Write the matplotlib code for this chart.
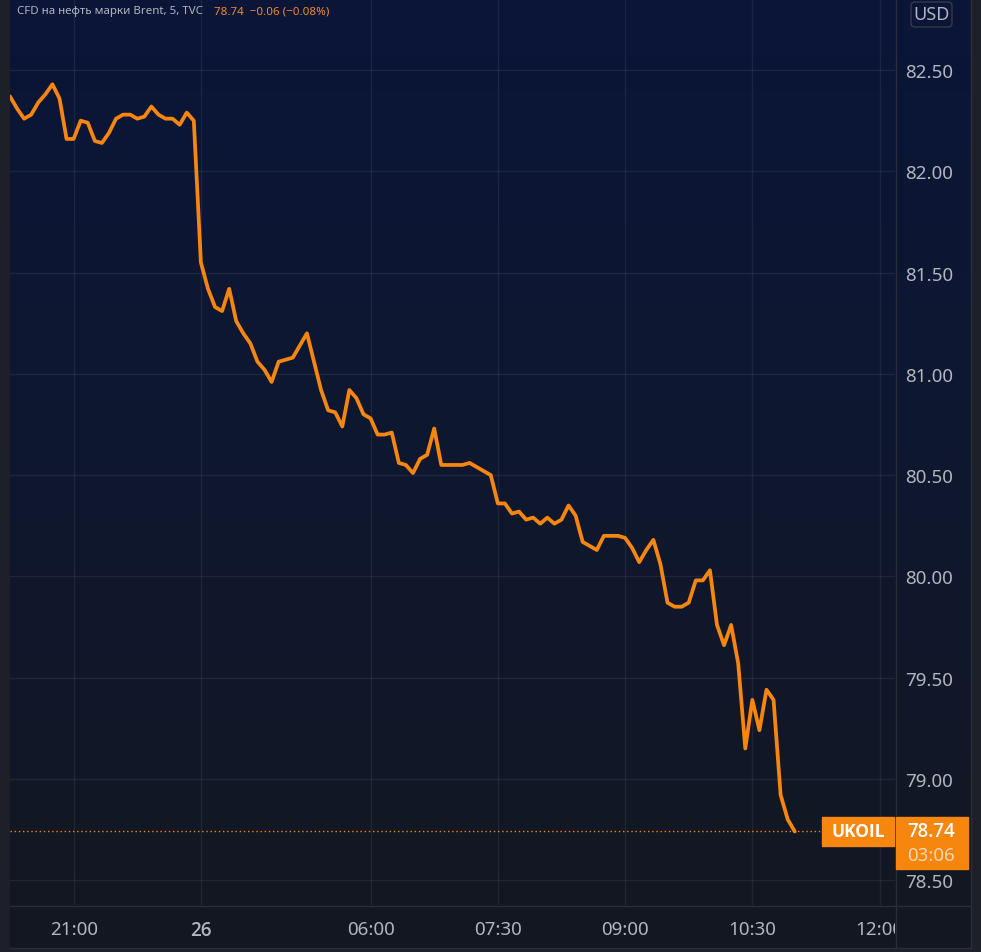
import matplotlib
matplotlib.use('Agg')
import matplotlib.pyplot as plt
import matplotlib.transforms as mtransforms
import numpy as np
from matplotlib.colors import LinearSegmentedColormap
from matplotlib.lines import Line2D
from matplotlib.patches import FancyBboxPatch, Rectangle

plt.rcParams['font.family'] = ['Noto Sans', 'DejaVu Sans']
BOLD_FAMILY = ['Open Sans', 'Roboto', 'DejaVu Sans']

# 5-minute closes, UKOIL
prices = [
    82.37, 82.31, 82.26, 82.28, 82.34, 82.38, 82.43, 82.36, 82.16, 82.16,
    82.25, 82.24, 82.15, 82.14, 82.19, 82.26, 82.28, 82.28, 82.26, 82.27,
    82.32, 82.28, 82.26, 82.26, 82.23, 82.29, 82.25, 81.55, 81.42, 81.33,
    81.31, 81.42, 81.26, 81.20, 81.15, 81.06, 81.02, 80.96, 81.06, 81.07,
    81.08, 81.14, 81.20, 81.06, 80.92, 80.82, 80.81, 80.74, 80.92, 80.88,
    80.80, 80.78, 80.70, 80.70, 80.71, 80.56, 80.55, 80.51, 80.58, 80.60,
    80.73, 80.55, 80.55, 80.55, 80.55, 80.56, 80.54, 80.52, 80.50, 80.36,
    80.36, 80.31, 80.32, 80.28, 80.29, 80.26, 80.29, 80.26, 80.28, 80.35,
    80.30, 80.17, 80.15, 80.13, 80.20, 80.20, 80.20, 80.19, 80.14, 80.07,
    80.13, 80.18, 80.06, 79.87, 79.85, 79.85, 79.87, 79.98, 79.98, 80.03,
    79.76, 79.66, 79.76, 79.57, 79.15, 79.39, 79.24, 79.44, 79.39, 78.92,
    78.80, 78.74]

time_ticks = [9, 27, 51, 69, 87, 105, 123]   # bar index
time_labels = ['21:00', '26', '06:00', '07:30', '09:00', '10:30', '12:00']
price_ticks = [78.5, 79.0, 79.5, 80.0, 80.5, 81.0, 81.5, 82.0, 82.5]

title = 'CFD на нефть марки Brent, 5, TVC'
symbol = 'UKOIL'
currency = 'USD'
last_price = 78.74
change = -0.06
change_pct = -0.08
countdown = '03:06'

ORANGE = '#f7860f'
TXT = '#b2b5be'
BORDER = '#2a2e39'
BOTTOM = '#131722'

W, H = 981, 953
fig = plt.figure(figsize=(W / 100, H / 100), dpi=100, facecolor='#1e2029')
# pixel coords, origin top-left
pix = mtransforms.Affine2D().scale(1 / W, -1 / H).translate(0, 1) + fig.transFigure


def rect(x0, y0, x1, y1):
    return [x0 / W, 1 - y1 / H, (x1 - x0) / W, (y1 - y0) / H]


# background gradient for chart + price scale
bg = fig.add_axes(rect(10, 0, 971, 906), zorder=0)
grad = np.linspace(0, 1, 256).reshape(-1, 1)
cmap = LinearSegmentedColormap.from_list('bg', ['#0a1538', '#0f1830', BOTTOM])
bg.imshow(grad, aspect='auto', cmap=cmap, extent=[0, 1, 0, 1])
bg.set_axis_off()

# time scale strip
fig.add_artist(Rectangle((10, 906), 961, 43, transform=pix, color=BOTTOM, zorder=0.5))

ax = fig.add_axes(rect(10, 0, 895, 906), zorder=2)
ax.patch.set_alpha(0)
x = np.arange(len(prices))
ax.plot(x, prices, color=ORANGE, lw=2.7, solid_joinstyle='round', solid_capstyle='round', zorder=3)

ax.set_xlim(0, 885 / 7.07)
ax.set_ylim(78.377, 82.851)

ax.set_xticks(time_ticks)
ax.set_xticklabels(time_labels)
for lbl in ax.get_xticklabels():
    if lbl.get_text() == '26':
        lbl.set_family(BOLD_FAMILY)
        lbl.set_fontweight('semibold')
ax.yaxis.tick_right()
ax.set_yticks(price_ticks)
ax.set_yticklabels([f'{v:.2f}' for v in price_ticks])
ax.tick_params(axis='x', length=0, pad=10.5, labelsize=13.5, labelcolor=TXT)
ax.tick_params(axis='y', length=0, pad=7.5, labelsize=13.5, labelcolor=TXT)
ax.grid(True, color='white', alpha=0.065, lw=1)
for s in ax.spines.values():
    s.set_visible(False)

# last price dotted line up to the symbol label
ax.axhline(last_price, xmin=0, xmax=(822 - 10) / 885, color=ORANGE, lw=1,
           ls=(0, (1, 2)), zorder=2)

# cover for clipped 12:00 label under price scale
corner = fig.add_axes(rect(895, 906, 971, 949), zorder=3)
corner.set_facecolor(BOTTOM)
corner.set_xticks([])
corner.set_yticks([])
for s in corner.spines.values():
    s.set_visible(False)

# separators
fig.add_artist(Line2D([895.5, 895.5], [0, 949], transform=pix, color=BORDER, lw=1, zorder=5))
fig.add_artist(Line2D([10, 971], [906.5, 906.5], transform=pix, color=BORDER, lw=1, zorder=5))
fig.add_artist(Line2D([970.5, 970.5], [0, 949], transform=pix, color=BORDER, lw=1, zorder=5))
fig.add_artist(Line2D([10, 971], [948.5, 948.5], transform=pix, color=BORDER, lw=1, zorder=5))

# currency box
fig.add_artist(FancyBboxPatch((911, 3), 41, 25, boxstyle='round,pad=0,rounding_size=4',
                              transform=pix, fc='none', ec='#363a45', lw=1, zorder=5))
fig.text(931.5, 15.5, currency, transform=pix, ha='center', va='center',
         color=TXT, fontsize=13, zorder=6)

# symbol and price labels
fig.add_artist(Rectangle((822, 818), 72, 29, transform=pix, color=ORANGE, zorder=5))
fig.text(858, 832.5, symbol, transform=pix, ha='center', va='center', color='white',
         fontsize=12.5, fontweight='bold', family=BOLD_FAMILY, zorder=6)
fig.add_artist(Rectangle((896, 818), 72, 52, transform=pix, color=ORANGE, zorder=5))
fig.text(931.5, 832.5, f'{last_price:.2f}', transform=pix, ha='center', va='center',
         color='white', fontsize=13.5, fontweight='semibold', family=BOLD_FAMILY, zorder=6)
fig.text(931.5, 856.5, countdown, transform=pix, ha='center', va='center',
         color='#fcd6ad', fontsize=13.5, zorder=6)

# legend line
fig.text(17, 11.5, title, transform=pix, ha='left', va='center', color=TXT, fontsize=8.3, zorder=6)
quote = f'{last_price:.2f}  \u2212{abs(change):.2f} (\u2212{abs(change_pct):.2f}%)'
fig.text(214, 11.5, quote, transform=pix, ha='left', va='center', color='#f28a2a',
         fontsize=8.3, zorder=6)

fig.savefig('out.png', dpi=100, facecolor=fig.get_facecolor())
